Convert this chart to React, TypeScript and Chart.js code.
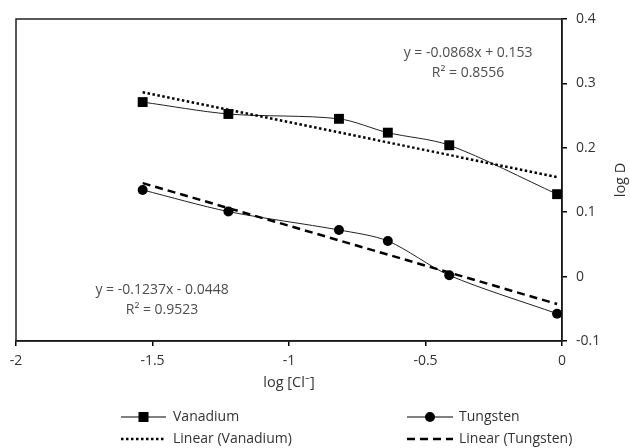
import { useEffect, useRef } from "react";
import { Chart, registerables } from "chart.js";
Chart.register(...registerables);

// ---- data ----
const logCl = [-1.536, -1.222, -0.817, -0.638, -0.413, -0.018];
const vanadium = [0.271, 0.2525, 0.245, 0.2235, 0.204, 0.128];
const tungsten = [0.1345, 0.101, 0.0724, 0.0553, 0.002, -0.0576];
const vanadiumFit = { slope: -0.0868, intercept: 0.153 };
const tungstenFit = { slope: -0.1237, intercept: -0.0448 };
const vEquation = ["y = -0.0868x + 0.153", "R² = 0.8556"];
const tEquation = ["y = -0.1237x - 0.0448", "R² = 0.9523"];
const xTitle = "log [Cl⁻]";
const yTitle = "log D";
const legendLabels = ["Vanadium", "Tungsten", "Linear (Vanadium)", "Linear (Tungsten)"];

const FONT = "'Open Sans'";
const TEXT = "#333333";
const EQ = "#4d4d4d";

function fitLine(fit: { slope: number; intercept: number }) {
  const x0 = logCl[0];
  const x1 = logCl[logCl.length - 1];
  return [
    { x: x0, y: fit.slope * x0 + fit.intercept },
    { x: x1, y: fit.slope * x1 + fit.intercept },
  ];
}

const fmt = (v: number) => String(Number(v.toFixed(2)));

const overlay = {
  id: "overlay",
  beforeDatasetsDraw(chart: any) {
    const { ctx, chartArea: a } = chart;
    ctx.save();
    ctx.strokeStyle = "#222";
    ctx.lineWidth = 1.5;
    ctx.strokeRect(a.left, a.top, a.right - a.left, a.bottom - a.top);
    ctx.restore();
  },
  afterDraw(chart: any) {
    const { ctx, scales, chartArea: a } = chart;
    const xs = scales.x;
    const ys = scales.y;
    ctx.save();
    // equations
    ctx.fillStyle = EQ;
    ctx.font = `14px ${FONT}`;
    ctx.textAlign = "center";
    ctx.textBaseline = "middle";
    ctx.fillText(vEquation[0], xs.getPixelForValue(-0.344), ys.getPixelForValue(0.347));
    ctx.fillText(vEquation[1], xs.getPixelForValue(-0.344), ys.getPixelForValue(0.316));
    ctx.fillText(tEquation[0], xs.getPixelForValue(-1.465), ys.getPixelForValue(-0.021));
    ctx.fillText(tEquation[1], xs.getPixelForValue(-1.465), ys.getPixelForValue(-0.052));

    // axis titles
    ctx.fillStyle = TEXT;
    ctx.font = `14.5px ${FONT}`;
    ctx.fillText(xTitle, (a.left + a.right) / 2, 383);
    ctx.save();
    ctx.translate(621, (a.top + a.bottom) / 2);
    ctx.rotate(-Math.PI / 2);
    ctx.fillText(yTitle, 0, 0);
    ctx.restore();

    // legend
    ctx.font = `14px ${FONT}`;
    ctx.textAlign = "left";
    const rows = [417, 439];
    const cols = [{ x0: 121, x1: 166, tx: 173 }, { x0: 407, x1: 453, tx: 459 }];
    ctx.strokeStyle = "#000";
    ctx.fillStyle = "#000";
    ctx.lineWidth = 1;
    ctx.setLineDash([]);
    ctx.beginPath();
    ctx.moveTo(cols[0].x0, rows[0]);
    ctx.lineTo(cols[0].x1, rows[0]);
    ctx.stroke();
    ctx.fillRect((cols[0].x0 + cols[0].x1) / 2 - 5, rows[0] - 5, 10, 10);
    ctx.beginPath();
    ctx.moveTo(cols[1].x0, rows[0]);
    ctx.lineTo(cols[1].x1, rows[0]);
    ctx.stroke();
    ctx.beginPath();
    ctx.arc((cols[1].x0 + cols[1].x1) / 2, rows[0], 5, 0, Math.PI * 2);
    ctx.fill();
    ctx.lineWidth = 2.5;
    ctx.setLineDash([2.5, 2.5]);
    ctx.beginPath();
    ctx.moveTo(cols[0].x0, rows[1]);
    ctx.lineTo(cols[0].x1, rows[1]);
    ctx.stroke();
    ctx.setLineDash([8, 5]);
    ctx.beginPath();
    ctx.moveTo(cols[1].x0, rows[1]);
    ctx.lineTo(cols[1].x1, rows[1]);
    ctx.stroke();
    ctx.setLineDash([]);
    ctx.fillStyle = TEXT;
    ctx.textBaseline = "middle";
    ctx.fillText(legendLabels[0], cols[0].tx, rows[0]);
    ctx.fillText(legendLabels[1], cols[1].tx, rows[0]);
    ctx.fillText(legendLabels[2], cols[0].tx, rows[1]);
    ctx.fillText(legendLabels[3], cols[1].tx, rows[1]);
    ctx.restore();
  },
};

export default function App() {
  const ref = useRef<HTMLCanvasElement>(null);
  useEffect(() => {
    if (!ref.current) return;
    const chart = new Chart(ref.current, {
      type: "line",
      data: {
        datasets: [
          {
            label: "Linear (Vanadium)",
            data: fitLine(vanadiumFit),
            borderColor: "#000",
            borderWidth: 2.5,
            borderDash: [2.5, 2.5],
            pointRadius: 0,
            tension: 0,
          },
          {
            label: "Linear (Tungsten)",
            data: fitLine(tungstenFit),
            borderColor: "#000",
            borderWidth: 2.5,
            borderDash: [8, 5],
            pointRadius: 0,
            tension: 0,
          },
          {
            label: "Vanadium",
            data: logCl.map((x, i) => ({ x, y: vanadium[i] })),
            borderColor: "#222",
            backgroundColor: "#000",
            borderWidth: 1,
            pointStyle: "rect",
            pointRadius: 7,
            pointBorderWidth: 0,
            tension: 0.3,
          },
          {
            label: "Tungsten",
            data: logCl.map((x, i) => ({ x, y: tungsten[i] })),
            borderColor: "#222",
            backgroundColor: "#000",
            borderWidth: 1,
            pointStyle: "circle",
            pointRadius: 5,
            pointBorderWidth: 0,
            tension: 0.3,
          },
        ],
      },
      options: {
        responsive: false,
        animation: false,
        layout: { padding: { left: 16, top: 19, right: 0, bottom: 47 } },
        plugins: { legend: { display: false }, tooltip: { enabled: false } },
        scales: {
          x: {
            type: "linear",
            position: "bottom",
            min: -2,
            max: 0,
            ticks: { stepSize: 0.5, color: TEXT, font: { family: FONT, size: 14 }, padding: 7, callback: (v: any) => fmt(v) },
            grid: { drawOnChartArea: false, drawTicks: true, tickLength: 5, color: "#000", lineWidth: 1.5 },
            border: { display: true, color: "#000", width: 1.5 },
            afterFit: (s: any) => { s.height = 60; },
          },
          y: {
            type: "linear",
            position: "right",
            min: -0.1,
            max: 0.4,
            ticks: { stepSize: 0.1, color: TEXT, font: { family: FONT, size: 14 }, padding: 9, callback: (v: any) => fmt(v) },
            grid: { drawOnChartArea: false, drawTicks: true, tickLength: 5, color: "#000", lineWidth: 1.5 },
            border: { display: true, color: "#000", width: 1.5 },
            afterFit: (s: any) => { s.width = 68; },
          },
        },
      } as any,
      plugins: [overlay],
    });
    return () => chart.destroy();
  }, []);
  return (
    <div style={{ position: "fixed", left: 0, top: 0, width: 630, height: 448, background: "#fff" }}>
      <canvas ref={ref} width={630} height={448} />
    </div>
  );
}
